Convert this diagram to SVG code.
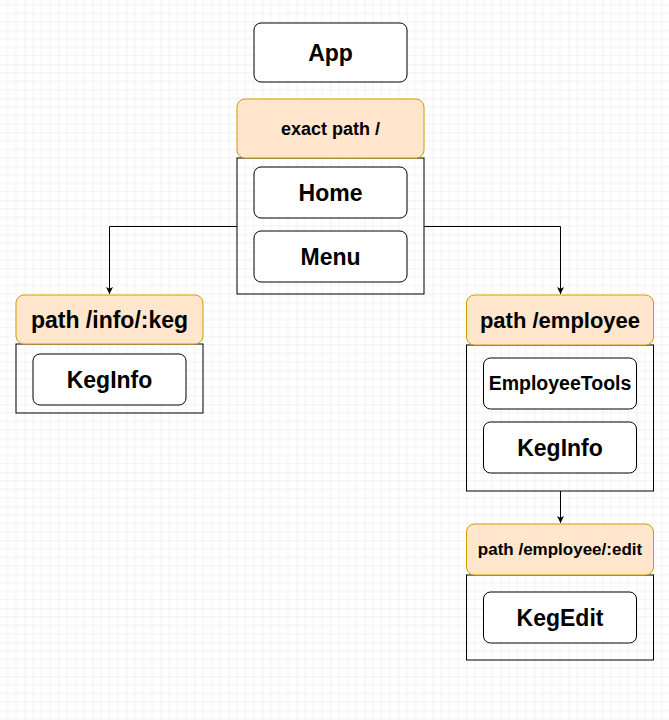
<svg xmlns="http://www.w3.org/2000/svg" width="669" height="720" viewBox="0 0 669 720">
<style>
.bg{fill:#ffffff}
.comp{fill:#ffffff;stroke:#000000;stroke-width:1}
.route{fill:#ffe6cc;stroke:#d79b00;stroke-width:1}
.box{fill:none;stroke:#000000;stroke-width:1}
.t{font-family:"Liberation Sans",Arial,sans-serif;font-weight:bold;fill:#000000;text-anchor:middle}
.edge{fill:none;stroke:#000000;stroke-width:1}
</style>
<defs>
<pattern id="grid" patternUnits="userSpaceOnUse" x="24.5" y="30.3" width="34" height="34">
<path d="M8.5 0V34M17 0V34M25.5 0V34M0 8.5H34M0 17H34M0 25.5H34" stroke="#f2f2f2" stroke-width="1" fill="none"/>
<path d="M0 0V34M0 0H34" stroke="#e3e3e3" stroke-width="1" fill="none"/>
</pattern>
<marker id="arr" viewBox="0 0 10 10" refX="10" refY="5" markerWidth="7" markerHeight="7" markerUnits="userSpaceOnUse" orient="auto">
<path d="M0 0L10 5L0 10L2.5 5Z" fill="#000000"/>
</marker>
</defs>
<rect class="bg" x="0" y="0" width="669" height="720"/>
<rect x="0" y="0" width="669" height="720" fill="url(#grid)"/>

<g id="connectors">
<path class="edge" d="M237 226.5H109.5V294" marker-end="url(#arr)"/>
<path class="edge" d="M424 226.5H560.5V294" marker-end="url(#arr)"/>
<path class="edge" d="M560.5 491V523" marker-end="url(#arr)"/>
</g>

<g id="app">
<rect class="comp" x="254" y="23" width="153" height="59" rx="7"/>
<text class="t" x="330.5" y="60.7" font-size="23">App</text>
</g>

<g id="exact-route">
<rect class="box" x="237" y="158" width="187" height="136"/>
<rect class="route" x="237" y="99" width="187" height="59" rx="8"/>
<text class="t" x="330.5" y="134.9" font-size="18">exact path /</text>
</g>
<g id="home">
<rect class="comp" x="254" y="167" width="153" height="51" rx="7"/>
<text class="t" x="330.5" y="200.7" font-size="23">Home</text>
</g>
<g id="menu">
<rect class="comp" x="254" y="231" width="153" height="51" rx="7"/>
<text class="t" x="330.5" y="264.7" font-size="23">Menu</text>
</g>

<g id="info-route">
<rect class="box" x="16" y="344" width="187" height="69"/>
<rect class="route" x="16" y="295" width="187" height="49" rx="8"/>
<text class="t" x="109.5" y="327.5" font-size="23">path /info/:keg</text>
</g>
<g id="keginfo-left">
<rect class="comp" x="33" y="354" width="153" height="51" rx="7"/>
<text class="t" x="109.5" y="387.7" font-size="23">KegInfo</text>
</g>

<g id="employee-route">
<rect class="box" x="466.5" y="345" width="187" height="146"/>
<rect class="route" x="466.5" y="295" width="187" height="50" rx="8"/>
<text class="t" x="560" y="327.6" font-size="22">path /employee</text>
</g>
<g id="employeetools">
<rect class="comp" x="483.5" y="358" width="153" height="51" rx="7"/>
<text class="t" x="560" y="390.4" font-size="19.5">EmployeeTools</text>
</g>
<g id="keginfo-right">
<rect class="comp" x="483.5" y="422" width="153" height="51" rx="7"/>
<text class="t" x="560" y="455.7" font-size="23">KegInfo</text>
</g>

<g id="edit-route">
<rect class="box" x="466.5" y="575" width="187" height="85"/>
<rect class="route" x="466.5" y="524" width="187" height="51" rx="8"/>
<text class="t" x="560" y="555.4" font-size="17">path /employee/:edit</text>
</g>
<g id="kegedit">
<rect class="comp" x="483.5" y="592" width="153" height="51" rx="7"/>
<text class="t" x="560" y="625.7" font-size="23">KegEdit</text>
</g>
</svg>
